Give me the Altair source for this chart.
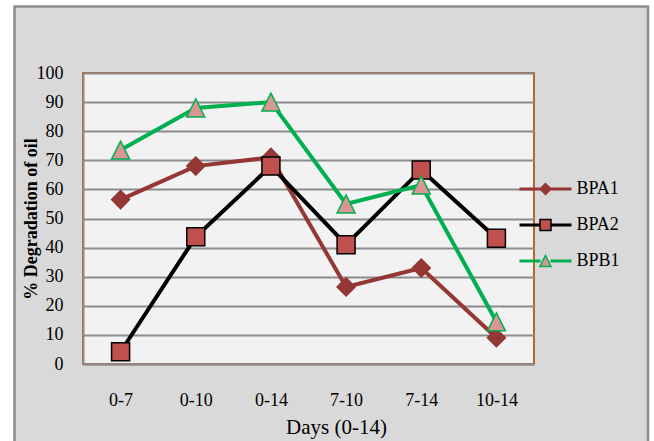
import altair as alt
import pandas as pd

# Sampling intervals (days) and % oil degradation per isolate
intervals = ["0-7", "0-10", "0-14", "7-10", "7-14", "10-14"]
bpa1 = [56.5, 68, 71, 26.5, 33, 9]
bpa2 = [4.2, 43.7, 68, 41, 66.7, 43.2]
bpb1 = [73.5, 88, 90, 55, 61.5, 14.5]

series_names = ["BPA1", "BPA2", "BPB1"]
line_colors = ["#953735", "#000000", "#00b050"]
marker_fills = ["#953735", "#c0504d", "#d99694"]
marker_paths = [
    "M0,-1L1,0L0,1L-1,0Z",      # diamond
    "M-1,-1H1V1H-1Z",           # square
    "M0,-1L1,1L-1,1Z",          # triangle
]

rows = []
for name, vals in zip(series_names, [bpa1, bpa2, bpb1]):
    for cat, v in zip(intervals, vals):
        rows.append({"interval": cat, "series": name, "value": v})
df = pd.DataFrame(rows)

W, H = 451, 291
SERIF = "Liberation Serif"

x_enc = alt.X(
    "interval:N",
    sort=intervals,
    scale=alt.Scale(type="point", padding=0.5),
    axis=alt.Axis(
        title="Days (0-14)",
        ticks=False,
        grid=False,
        domainColor="#8c8c8c",
        domainWidth=2,
        labelFont=SERIF,
        labelFontSize=18,
        labelColor="#000000",
        labelPadding=27,
        labelAngle=0,
        titleFont=SERIF,
        titleFontSize=21,
        titleFontWeight="normal",
        titleColor="#000000",
        titleX=253,
        titleY=69,
        titleAlign="center",
        titleBaseline="alphabetic",
    ),
)
y_enc = alt.Y(
    "value:Q",
    scale=alt.Scale(domain=[0, 100], nice=False),
    axis=alt.Axis(
        title="% Degradation of oil",
        values=list(range(0, 101, 10)),
        ticks=False,
        grid=True,
        gridColor="#8c8c8c",
        gridWidth=2,
        domainColor="#8c8c8c",
        domainWidth=2,
        labelFont=SERIF,
        labelFontSize=18,
        labelColor="#000000",
        labelPadding=20,
        titleFont=SERIF,
        titleFontSize=18,
        titleFontWeight="bold",
        titleColor="#000000",
        titleAngle=270,
        titleX=-52,
        titleY=H / 2,
        titleAlign="center",
        titleBaseline="middle",
    ),
)

base = alt.Chart(df)

# Outer chart frame: white margin outside, grey border line
frame_df = pd.DataFrame([{"k": 0}])
margin = alt.Chart(frame_df).mark_rect(
    fill=None, stroke="#ffffff", strokeWidth=40, fillOpacity=0
).encode(
    x=alt.value(-88.5), x2=alt.value(585), y=alt.value(-86.5), y2=alt.value(400)
)
border = alt.Chart(frame_df).mark_rect(
    fill=None, stroke="#8c8c8c", strokeWidth=2.5, fillOpacity=0
).encode(
    x=alt.value(-68.5), x2=alt.value(565), y=alt.value(-66.5), y2=alt.value(380)
)

LEG_X, LEG_Y, ROW_PAD = 433, 107, 18

# Legend line segment (with a gap where the marker sits), drawn wider than the
# nominal symbol box so the entry rows stay compact
lines = base.mark_line(strokeWidth=4).encode(
    x=x_enc,
    y=y_enc,
    color=alt.Color(
        "series:N",
        scale=alt.Scale(domain=series_names, range=line_colors),
        legend=alt.Legend(
            title=None,
            orient="none",
            legendX=LEG_X,
            legendY=LEG_Y,
            padding=0,
            symbolType="M-4.727,0H-0.9M0.9,0H4.727",
            symbolSize=121,
            symbolStrokeWidth=3,
            symbolOffset=20.5,
            labelFont=SERIF,
            labelFontSize=18,
            labelColor="#000000",
            labelOffset=22,
            rowPadding=ROW_PAD,
        ),
    ),
    detail="series:N",
)

marker_legend = alt.Legend(
    title=None,
    orient="none",
    legendX=LEG_X,
    legendY=LEG_Y,
    padding=0,
    symbolSize=121,
    symbolStrokeWidth=1.5,
    symbolOffset=20.5,
    labelFont=SERIF,
    labelFontSize=18,
    labelOpacity=0,
    labelOffset=22,
    rowPadding=ROW_PAD,
)

points = base.mark_point(filled=True, opacity=1, size=324, strokeWidth=1.5).encode(
    x=x_enc,
    y=y_enc,
    fill=alt.Fill("series:N", scale=alt.Scale(range=marker_fills), legend=marker_legend),
    stroke=alt.Stroke("series:N", scale=alt.Scale(range=line_colors), legend=marker_legend),
    shape=alt.Shape("series:N", scale=alt.Scale(range=marker_paths), legend=marker_legend),
)

chart = (
    alt.layer(margin, border, lines, points)
    .properties(
        width=W,
        height=H,
        padding={"left": 83, "top": 73, "right": 120, "bottom": 77},
        autosize=alt.AutoSizeParams(type="none"),
        background="#d9d9d9",
    )
    .configure_view(fill="#f2f2f2", stroke="#b8652a", strokeWidth=2)
)

chart.save("out.html", embed_options={"renderer": "svg", "actions": False})
